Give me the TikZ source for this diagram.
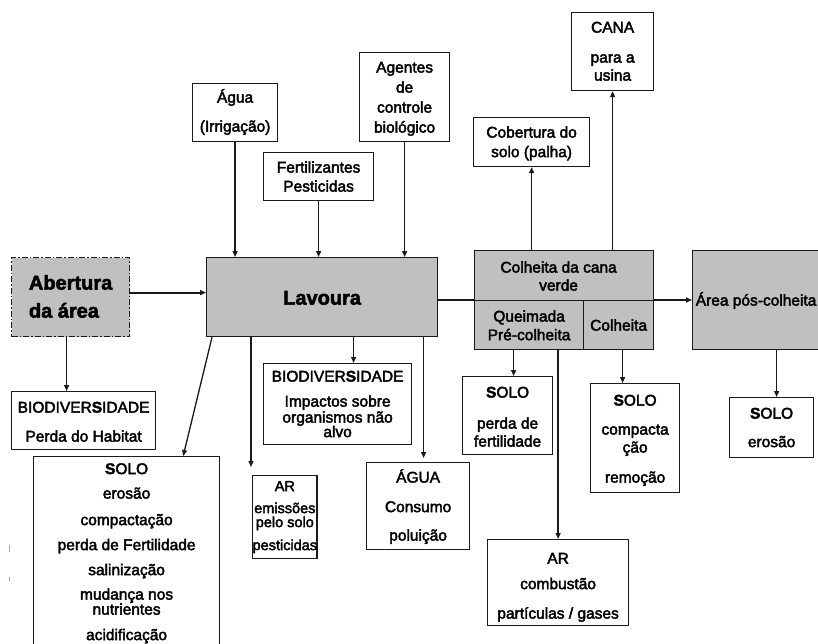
\documentclass[tikz,border=0pt]{standalone}
\usepackage{fontspec}
\setmainfont{Liberation Sans}[FakeBold=2.5]
\usetikzlibrary{arrows.meta}
\definecolor{panelgray}{HTML}{C0C0C0}
\definecolor{inkline}{HTML}{1A1A1A}
% label text: baselines are set only by the explicit \\[..] skips
\newcommand\labelfont{\fontsize{15.5}{0}\selectfont\lineskiplimit=-100pt\relax}
\newcommand\smalllabelfont{\fontsize{14.5}{0}\selectfont\lineskiplimit=-100pt\relax}
\newcommand\titlefont{\fontsize{20}{0}\selectfont\bfseries\lineskiplimit=-100pt\relax}
% invisible struts fixing the space above the first and below the last line
\newcommand\topgap[1]{\rule{0pt}{#1pt}}
\newcommand\botgap[1]{\rule[-#1pt]{0pt}{#1pt}}
\newcommand\bS{\textbf{S}}
\begin{document}
\begin{tikzpicture}[x=1pt,y=-1pt,
  box/.style={draw=inkline, line width=1.2pt, fill=white, inner sep=0pt,
              anchor=north west, align=center, font=\labelfont},
  shaded/.style={box, fill=panelgray},
  link/.style={draw=inkline, line width=1.3pt},
  arr/.style={link, -{Triangle[length=6pt,width=5pt]}},
  heavy/.style={line width=2.2pt}]
\useasboundingbox (0,0) rectangle (818,643);
\clip (0,0) rectangle (818,643);

% ---- main stages ----
\node[shaded, minimum width=118pt, align=left, font=\titlefont,
      dash pattern=on 6pt off 2pt on 1.5pt off 2pt] (abertura) at (11,257)
  {\topgap{32}Abertura\\[28pt]da área\botgap{19}};
\node[shaded, minimum width=231pt, font=\titlefont] (lavoura) at (206,257)
  {\topgap{47}Lavoura\botgap{32}};
\node[shaded, minimum width=179pt] (colhTop) at (474,250)
  {\topgap{22}Colheita da cana\hspace*{11pt}\\[18pt]verde\hspace*{11pt}\botgap{10}};
\node[shaded, minimum width=109pt] (colhQ) at (474,300)
  {\topgap{21}Queimada\\[18.6pt]Pré-colheita\botgap{9.4}};
\node[shaded, minimum width=70pt] (colhC) at (583,300)
  {\topgap{30}Colheita\botgap{19}};
\node[shaded, minimum width=127pt] (pos) at (692,250)
  {\topgap{55}Área pós-colheita\botgap{44}};

% ---- inputs ----
\node[box, minimum width=85pt] (agua) at (192,83)
  {\topgap{19}Água\\[29pt](Irrigação)\botgap{10}};
\node[box, minimum width=110pt] (fert) at (263,152)
  {\topgap{20}Fertilizantes\\[19pt]Pesticidas\botgap{9}};
\node[box, minimum width=90pt] (agentes) at (359,52)
  {\topgap{20}Agentes\\[20pt]de\\[20pt]controle\\[20pt]biológico\botgap{9}};

% ---- outputs of the harvest ----
\node[box, minimum width=116pt] (cobertura) at (473,117)
  {\topgap{20}Cobertura do\\[19.5pt]solo (palha)\botgap{9.5}};
\node[box, minimum width=82pt] (cana) at (571,12)
  {\topgap{20}CANA\\[30pt]para a\\[18pt]usina\botgap{10}};

% ---- impacts ----
\node[box, minimum width=144pt] (biodivH) at (11,391)
  {\topgap{21}BIODIVER\bS IDADE\\[29pt]Perda do Habitat\botgap{8}};
\node[box, minimum width=186pt] (soloBig) at (33,456)
  {\topgap{17.5}\bS OLO\\[24.5pt]erosão\\[26.5pt]compactação\\[25pt]perda de Fertilidade\\[25pt]salinização\\[24.5pt]mudança nos\\[15pt]nutrientes\\[25.5pt]acidificação\botgap{60}};
\node[box, minimum width=63pt, font=\smalllabelfont] (arLeft) at (252,475)
  {\topgap{15.5}AR\\[22pt]emissões\\[14pt]pelo solo\\[23pt]pesticidas\botgap{8.5}};
\node[box, minimum width=148pt] (biodivI) at (263,363)
  {\topgap{18}BIODIVER\bS IDADE\\[25pt]Impactos sobre\\[16pt]organismos não\\[14.5pt]alvo\botgap{7.5}};
\node[box, minimum width=103pt] (aguaB) at (366,462)
  {\topgap{20}ÁGUA\\[29.5pt]Consumo\\[28.5pt]poluição\botgap{9}};
\node[box, minimum width=90pt] (soloPF) at (462,376)
  {\topgap{21}\bS OLO\\[31pt]perda de\\[18pt]fertilidade\botgap{8}};
\node[box, minimum width=89pt] (soloComp) at (590,383)
  {\topgap{22}\bS OLO\\[29pt]compacta\\[18pt]ção\\[30pt]remoção\botgap{10}};
\node[box, minimum width=141pt] (arComb) at (487,539)
  {\topgap{24}AR\\[25.5pt]combustão\\[29.5pt]partículas / gases\botgap{7}};
\node[box, minimum width=84pt] (soloEro) at (729,397)
  {\topgap{21}\bS OLO\\[28.5pt]erosão\botgap{10.5}};

% ---- main flow ----
\draw[arr, heavy] ([yshift=4.5pt]abertura.east) -- ([yshift=4.5pt]lavoura.west);
\draw[link, heavy] (lavoura.east |- colhQ.north west) -- (colhQ.north west);
\draw[arr, heavy] (colhC.north east) -- (colhC.north east -| pos.west);

% ---- inputs into the crop ----
\draw[arr] (agua.south) -- (agua.south |- lavoura.north);
\draw[arr] (fert.south) -- (fert.south |- lavoura.north);
\draw[arr] (agentes.south) -- (agentes.south |- lavoura.north);

% ---- harvest products ----
\draw[arr] (cobertura.south |- colhTop.north) -- (cobertura.south);
\draw[arr] (cana.south |- colhTop.north) -- (cana.south);

% ---- impacts ----
\draw[arr] ([xshift=-4pt]abertura.south) -- ([xshift=-4pt]abertura.south |- biodivH.north);
\draw[arr] ([xshift=6pt]lavoura.south west) -- ([xshift=-37pt]soloBig.north east);
\draw[arr, shorten >=8pt] ([xshift=45pt]lavoura.south west) -- ([xshift=45pt]lavoura.south west |- arLeft.north);
\draw[arr] ([xshift=16pt]biodivI.north |- lavoura.south) -- ([xshift=16pt]biodivI.north);
\draw[arr, shorten >=4pt] ([xshift=5.5pt]aguaB.north |- lavoura.south) -- ([xshift=5.5pt]aguaB.north);
\draw[arr] ([xshift=6pt]soloPF.north |- colhQ.south) -- ([xshift=6pt]soloPF.north);
\draw[arr] (arComb.north |- colhQ.south) -- (arComb.north);
\draw[arr] ([xshift=4pt]colhC.south) -- ([xshift=4pt]colhC.south |- soloComp.north);
\draw[arr] ([xshift=20.5pt]pos.south) -- ([xshift=20.5pt]pos.south |- soloEro.north);

% faint marks at the left margin
\draw[black!35, line width=0.8pt] (9,545) -- (9,552) (9,577) -- (9,581);
\end{tikzpicture}
\end{document}
